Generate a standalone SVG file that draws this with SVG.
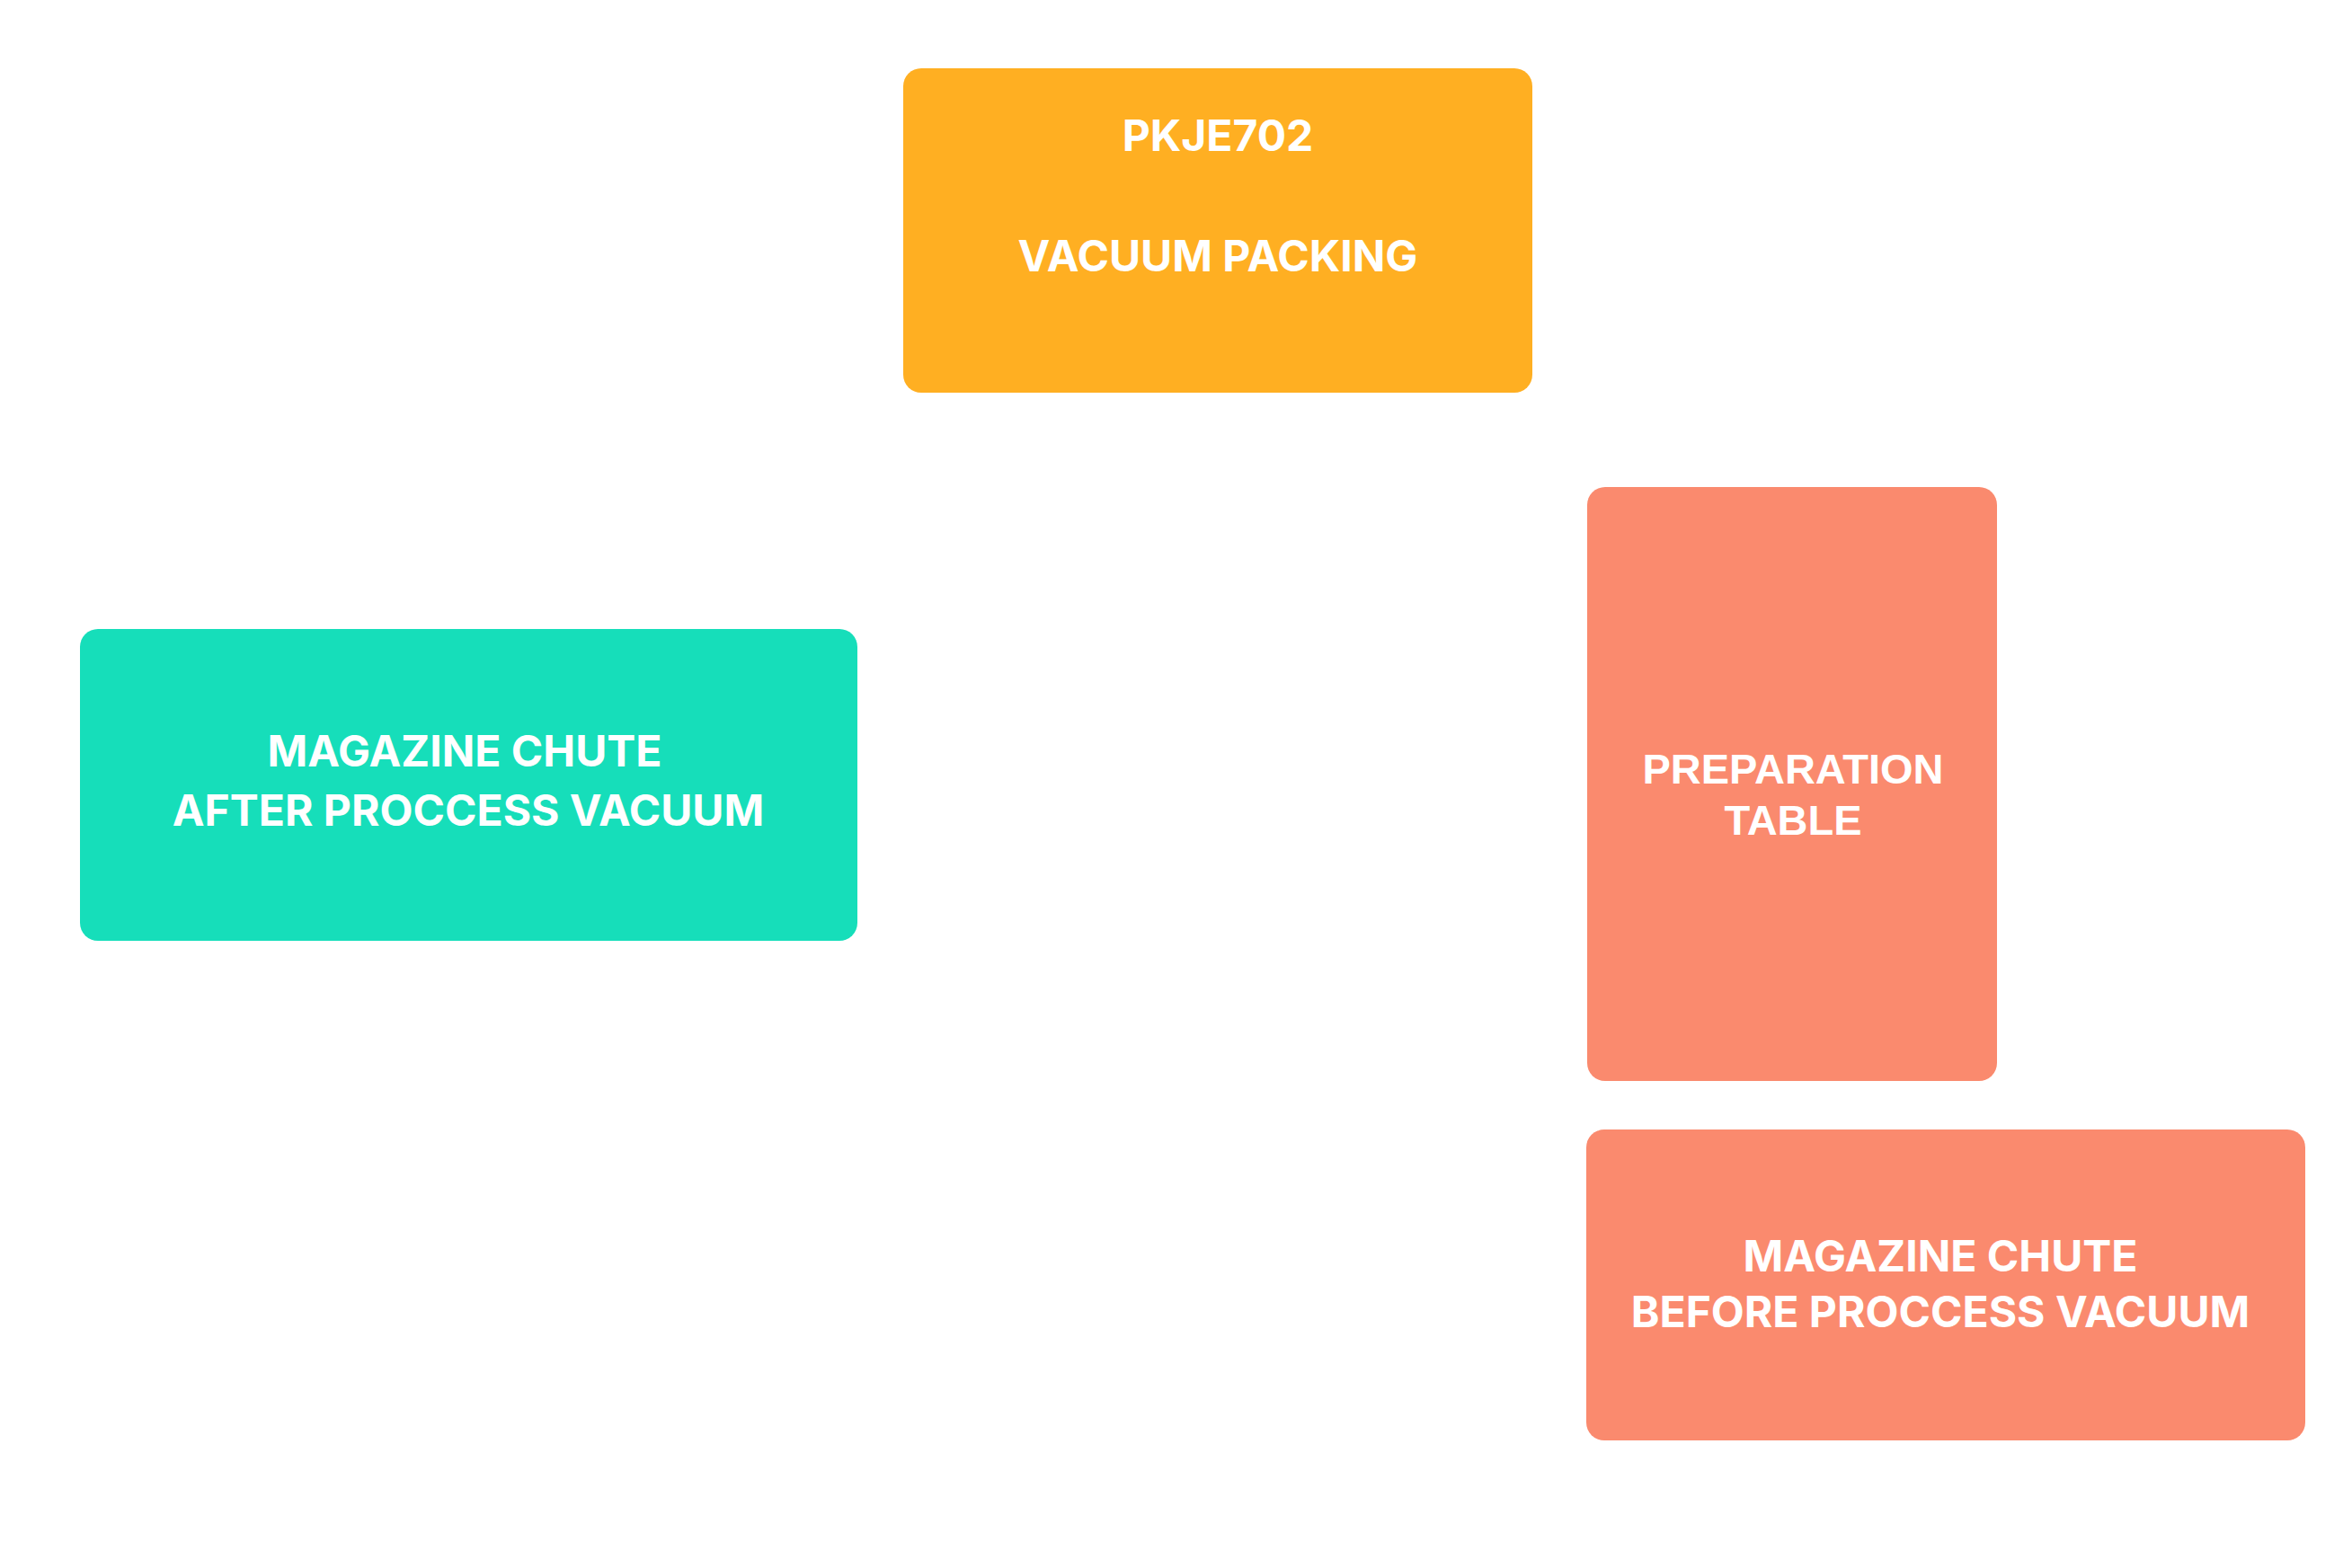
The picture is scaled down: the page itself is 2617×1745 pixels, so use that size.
<svg xmlns="http://www.w3.org/2000/svg" width="2617" height="1745" viewBox="0 0 2617 1745">
<style>
.t{font-family:Inter,"Noto Sans","Liberation Sans",sans-serif;font-weight:700;font-size:48px;fill:#ffffff;text-anchor:middle}
.a{font-family:"Liberation Sans",Arial,sans-serif;font-weight:700;font-size:47px;fill:#ffffff;text-anchor:middle}
</style>
<rect width="2617" height="1745" fill="#ffffff"/>
<g id="connectors"></g>
<g id="node-vacuum-packing">
<rect x="1005" y="76" width="700" height="361" rx="20" fill="#FFAF22"/>
<text class="t" x="1355" y="168">PKJE702</text>
<text class="t" x="1355" y="302">VACUUM PACKING</text>
</g>
<g id="node-chute-after">
<rect x="89" y="700" width="865" height="347" rx="20" fill="#16DEBA"/>
<text class="t" x="517" y="853">MAGAZINE CHUTE </text>
<text class="t" x="521" y="919">AFTER PROCCESS VACUUM</text>
</g>
<g id="node-preparation-table">
<rect x="1766" y="542" width="456" height="661" rx="20" fill="#FA8A6E"/>
<text class="a" x="1995" y="872">PREPARATION</text>
<text class="a" x="1995" y="929">TABLE</text>
</g>
<g id="node-chute-before">
<rect x="1765" y="1257" width="800" height="346" rx="20" fill="#FA8A6E"/>
<text class="t" x="2159" y="1415">MAGAZINE CHUTE </text>
<text class="t" x="2159" y="1477">BEFORE PROCCESS VACUUM</text>
</g>
</svg>
